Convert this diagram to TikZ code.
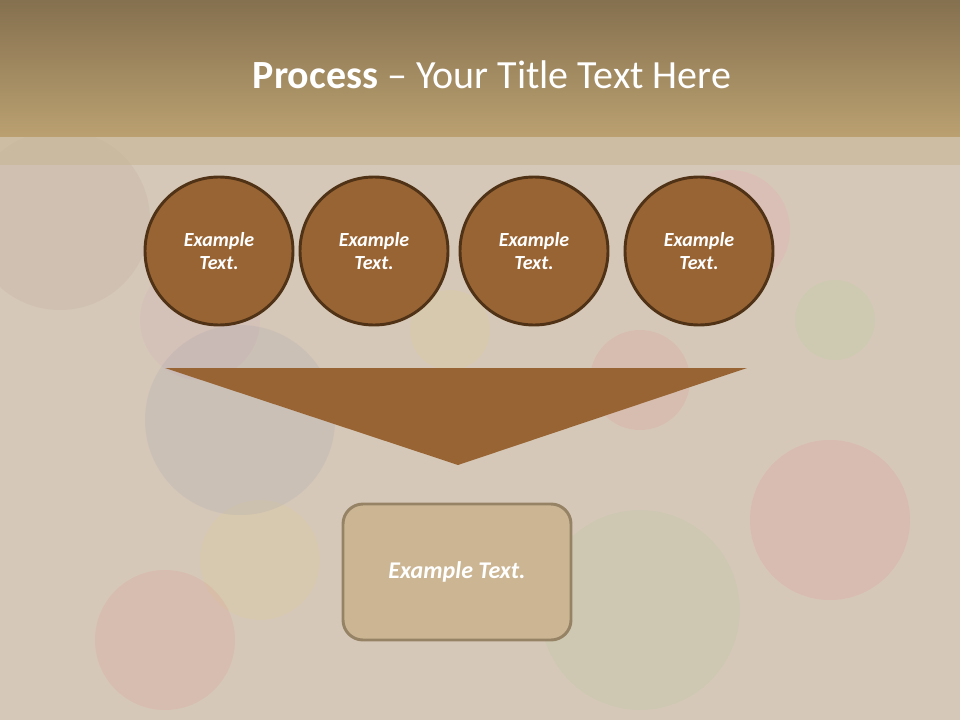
\documentclass[tikz,border=0pt]{standalone}
\usepackage{fontspec}
\setmainfont{Carlito}
\definecolor{bgbase}{RGB}{214,200,184}
\definecolor{headtop}{RGB}{133,112,79}
\definecolor{headbot}{RGB}{187,161,113}
\definecolor{stripc}{RGB}{200,182,150}
\definecolor{circfill}{RGB}{152,100,52}
\definecolor{circline}{RGB}{80,50,22}
\definecolor{boxfill}{RGB}{203,181,147}
\definecolor{boxline}{RGB}{150,131,102}
\begin{document}
\begin{tikzpicture}[x=0.75pt,y=-0.75pt,
  stepcirc/.style={circle,fill=circfill,draw=circline,line width=2.2pt,minimum size=111pt,inner sep=0pt,
    text=white,align=center,font=\fontsize{15}{17.25}\selectfont\bfseries\itshape},
  outbox/.style={rectangle,rounded corners=15pt,fill=boxfill,draw=boxline,line width=2.2pt,
    minimum width=171pt,minimum height=102pt,text=white,font=\fontsize{18}{21}\selectfont\bfseries\itshape},
  blob/.style={opacity=0.12}]
\useasboundingbox (0,0) rectangle (960,720);
% background
\fill[bgbase] (0,0) rectangle (960,720);
\begin{scope}
\clip (0,137) rectangle (960,720);
\fill[blob,fill={rgb,255:red,120;green,140;blue,170}] (240,420) circle (95);
\fill[blob,fill={rgb,255:red,230;green,110;blue,120}] (165,640) circle (70);
\fill[blob,fill={rgb,255:red,150;green,200;blue,140}] (640,610) circle (100);
\fill[blob,fill={rgb,255:red,235;green,100;blue,130}] (830,520) circle (80);
\fill[blob,fill={rgb,255:red,150;green,210;blue,130}] (835,320) circle (40);
\fill[blob,fill={rgb,255:red,225;green,200;blue,120}] (260,560) circle (60);
\fill[blob,fill={rgb,255:red,200;green,150;blue,190}] (200,320) circle (60);
\fill[blob,fill={rgb,255:red,230;green,110;blue,110}] (640,380) circle (50);
\fill[blob,fill={rgb,255:red,230;green,210;blue,100}] (450,330) circle (40);
\fill[blob,fill={rgb,255:red,160;green,140;blue,130}] (60,220) circle (90);
\fill[blob,fill={rgb,255:red,240;green,130;blue,170}] (730,230) circle (60);
\end{scope}
% header
\shade[top color=headtop,bottom color=headbot] (0,0) rectangle (960,137);
\fill[stripc,opacity=0.6] (0,137) rectangle (960,165);
\node[text=white,font=\fontsize{30}{36}\selectfont] (title) at (492,75) {\textbf{Process} – Your Title Text Here};
% circles
\node[stepcirc] (c1) at (219,251) {Example\\Text.};
\node[stepcirc] (c2) at (374,251) {Example\\Text.};
\node[stepcirc] (c3) at (534,251) {Example\\Text.};
\node[stepcirc] (c4) at (699,251) {Example\\Text.};
% funnel triangle
\coordinate (tl) at (165,368);
\coordinate (tr) at (747,368);
\coordinate (tp) at (458,465);
\fill[circfill] (tl) -- (tr) -- (tp) -- cycle;
% output box
\node[outbox] (out) at (457,572) {\raisebox{-2pt}{Example Text.}};
\end{tikzpicture}
\end{document}
